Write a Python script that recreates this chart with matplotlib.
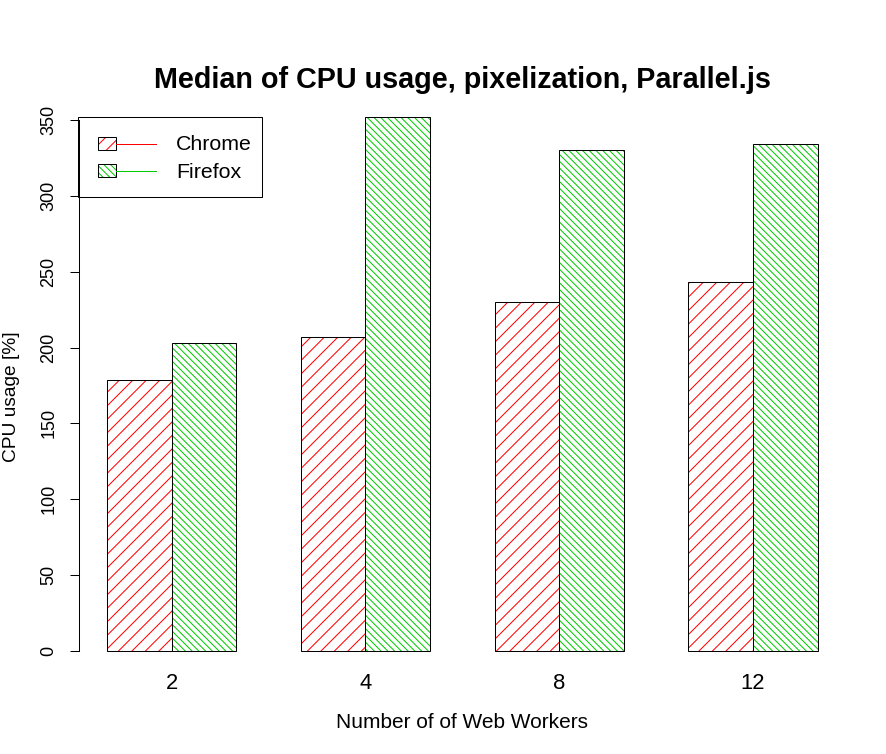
import numpy as np
import matplotlib
matplotlib.use('Agg')
import matplotlib.pyplot as plt
from matplotlib.patches import Rectangle
from matplotlib.lines import Line2D

plt.rcParams['font.family'] = ['Liberation Sans', 'DejaVu Sans']
plt.rcParams['hatch.linewidth'] = 0.9

workers = ['2', '4', '8', '12']
chrome = [178.6, 207, 230, 243.2]
firefox = [203, 352, 330, 334]
series = ['Chrome', 'Firefox']
colors = ['#FF0000', '#00CC00']
hatches = ['//', '\\\\\\\\']

W, H, DPI = 886, 754, 81
fig = plt.figure(figsize=(W / DPI, H / DPI), dpi=DPI)

# plot region in pixels (R style: 4% padding around the bars)
left, right, top, bottom = 78.6, 846.0, 97.2, 672.3
ax = fig.add_axes([left / W, 1 - bottom / H, (right - left) / W, (bottom - top) / H])

x0 = np.arange(len(workers)) * 3 + 1.5
xs = [x0, x0 + 1]
for i, vals in enumerate([chrome, firefox]):
    ax.bar(xs[i], vals, width=1, facecolor='white', edgecolor=colors[i],
           hatch=hatches[i], linewidth=0)
    ax.bar(xs[i], vals, width=1, fill=False, edgecolor='black', linewidth=0.9)

ax.set_xlim(0.56, 12.44)
ax.set_ylim(-14.04, 365.04)

for s in ['top', 'right', 'bottom']:
    ax.spines[s].set_visible(False)
ax.spines['left'].set_bounds(0, 350)
ax.spines['left'].set_linewidth(0.9)

ax.set_yticks(np.arange(0, 351, 50))
ax.tick_params(axis='y', length=8, width=0.9, pad=11, labelsize=16)
plt.setp(ax.get_yticklabels(), rotation=90, va='center')

ax.set_xticks(x0 + 0.5)
ax.set_xticklabels(workers)
ax.tick_params(axis='x', length=0, pad=1, labelsize=19.5)

ax.set_xlabel('Number of of Web Workers', fontsize=18.5, va='center')
ax.xaxis.set_label_coords(0.5, -(722 - bottom) / (bottom - top))
ax.set_ylabel('CPU usage [%]', fontsize=17, va='center')
ax.yaxis.set_label_coords(-(left - 12) / (right - left), 0.48)

ax.set_title('Median of CPU usage, pixelization, Parallel.js', fontsize=25.5,
             fontweight='bold', y=(bottom - 80) / (bottom - top), va='center', pad=0)


# legend, drawn R style
def fx(px):
    return px / W


def fy(py):
    return 1 - py / H


fig.add_artist(Rectangle((fx(78), fy(197)), fx(262) - fx(78), fy(117) - fy(197),
                         fill=False, edgecolor='black', linewidth=0.9,
                         transform=fig.transFigure))
rows = [143.5, 170.5]
for i, name in enumerate(series):
    yc = rows[i]
    fig.add_artist(Line2D([fx(115.7), fx(156)], [fy(yc), fy(yc)], color=colors[i],
                          linewidth=0.9, transform=fig.transFigure))
    fig.add_artist(Rectangle((fx(98.3), fy(yc + 6.5)), fx(115.7) - fx(98.3), fy(yc - 6.5) - fy(yc + 6.5),
                             facecolor='white', edgecolor=colors[i], hatch=hatches[i],
                             linewidth=0, transform=fig.transFigure))
    fig.add_artist(Rectangle((fx(98.3), fy(yc + 6.5)), fx(115.7) - fx(98.3), fy(yc - 6.5) - fy(yc + 6.5),
                             fill=False, edgecolor='black', linewidth=0.9,
                             transform=fig.transFigure))
    fig.text(fx(176), fy(yc + 1.5), name, fontsize=19, va='center', ha='left')

fig.savefig('out.png', dpi=DPI)
